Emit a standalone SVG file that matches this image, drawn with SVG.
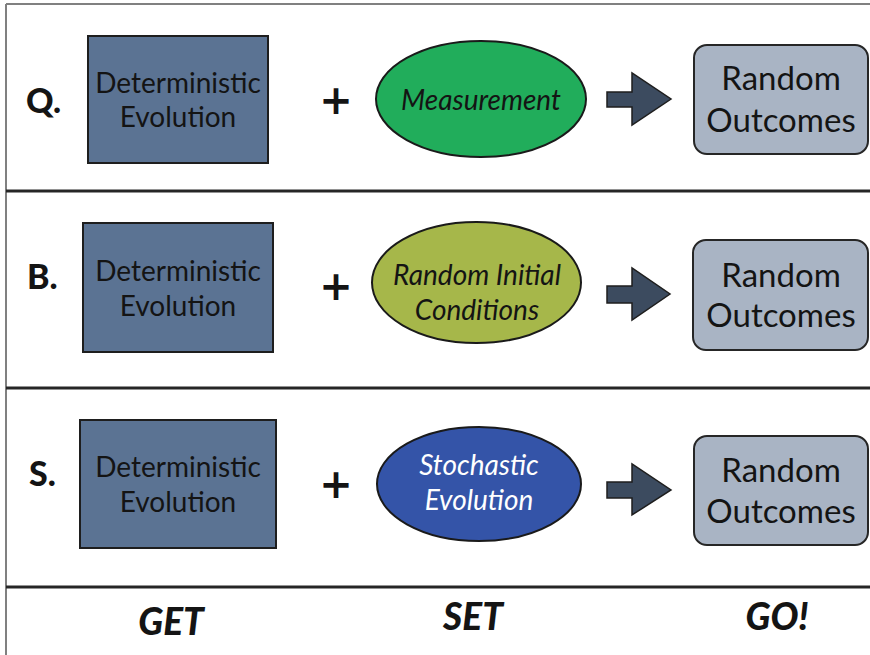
<svg xmlns="http://www.w3.org/2000/svg" width="870" height="655" viewBox="0 0 870 655">
<defs>
<style>
.frame{stroke:#808080;stroke-width:2;fill:none}
.div{stroke:#262626;stroke-width:3;fill:none}
.det{fill:#5b7393;stroke:#1e1e1e;stroke-width:2}
.out{fill:#a9b4c4;stroke:#262626;stroke-width:2}
.ell{stroke:#1a1a1a;stroke-width:2}
.arrow{fill:#3c4b5f;stroke:#1e1e1e;stroke-width:1.5}
.t{font-family:Lato,"Open Sans","Liberation Sans",sans-serif;fill:#141414;text-anchor:middle}
.detT{font-size:28px}
.outT{font-size:33px}
.ellT{font-size:28px;font-style:italic}
.lab{font-family:Lato,"Liberation Sans",sans-serif;font-weight:900;font-size:34px;fill:#141414}
.plus{font-family:"DejaVu Sans","Liberation Sans",sans-serif;font-weight:bold;font-size:40px;fill:#141414;text-anchor:middle}
.foot{font-family:Lato,"Liberation Sans",sans-serif;font-weight:900;font-style:italic;font-size:37px;fill:#141414;text-anchor:middle}
</style>
</defs>
<rect width="870" height="655" fill="#ffffff"/>
<g id="frame">
<line class="frame" x1="6" y1="4" x2="870" y2="4"/>
<line class="frame" x1="6" y1="4" x2="6" y2="655"/>
<line class="div" x1="6" y1="191" x2="870" y2="191"/>
<line class="div" x1="6" y1="388" x2="870" y2="388"/>
<line class="div" x1="6" y1="587" x2="870" y2="587"/>
</g>

<g id="label-q"><text class="lab" x="26" y="113">Q.</text></g>
<g id="label-b"><text class="lab" x="27" y="289">B.</text></g>
<g id="label-s"><text class="lab" x="29" y="486">S.</text></g>

<g id="det-q">
<rect class="det" x="88" y="36" width="180" height="127"/>
<text class="t detT" x="178" y="93">Deterministic</text>
<text class="t detT" x="178" y="127">Evolution</text>
</g>
<g id="det-b">
<rect class="det" x="83" y="223" width="190" height="129"/>
<text class="t detT" x="178" y="281">Deterministic</text>
<text class="t detT" x="178" y="316">Evolution</text>
</g>
<g id="det-s">
<rect class="det" x="80" y="420" width="196" height="128"/>
<text class="t detT" x="178" y="477">Deterministic</text>
<text class="t detT" x="178" y="512">Evolution</text>
</g>

<g id="plus-q"><text class="plus" x="336" y="114">+</text></g>
<g id="plus-b"><text class="plus" x="336" y="300">+</text></g>
<g id="plus-s"><text class="plus" x="336" y="498">+</text></g>

<g id="measurement">
<ellipse class="ell" cx="481" cy="99" rx="105" ry="58" fill="#21ad5b"/>
<text class="t ellT" x="481" y="110">Measurement</text>
</g>
<g id="random-initial">
<ellipse class="ell" cx="476.5" cy="282.5" rx="104.5" ry="60.5" fill="#a6b74a"/>
<text class="t ellT" x="477" y="285">Random Initial</text>
<text class="t ellT" x="477" y="320">Conditions</text>
</g>
<g id="stochastic">
<ellipse class="ell" cx="479" cy="484" rx="102" ry="57" fill="#3454a8"/>
<text class="t ellT" x="479" y="475" style="fill:#ffffff">Stochastic</text>
<text class="t ellT" x="479" y="510" style="fill:#ffffff">Evolution</text>
</g>

<g id="connectors">
<path class="arrow" d="M607,92 H632 V73 L671,99 L632,125 V107 H607 Z"/>
<path class="arrow" d="M607,286 H632 V268 L670,294 L632,320 V303 H607 Z"/>
<path class="arrow" d="M607,482 H632 V464 L671,490 L632,515 V498 H607 Z"/>
</g>

<g id="out-q">
<rect class="out" x="694" y="45" width="174" height="109" rx="13"/>
<text class="t outT" x="781" y="90">Random</text>
<text class="t outT" x="781" y="132">Outcomes</text>
</g>
<g id="out-b">
<rect class="out" x="693" y="240" width="175" height="110" rx="13"/>
<text class="t outT" x="781" y="287">Random</text>
<text class="t outT" x="781" y="327">Outcomes</text>
</g>
<g id="out-s">
<rect class="out" x="694" y="436" width="174" height="109" rx="13"/>
<text class="t outT" x="781" y="482">Random</text>
<text class="t outT" x="781" y="523">Outcomes</text>
</g>

<g id="footer">
<text class="foot" x="171" y="635">GET</text>
<text class="foot" x="473" y="630">SET</text>
<text class="foot" x="777" y="630">GO!</text>
</g>
</svg>
